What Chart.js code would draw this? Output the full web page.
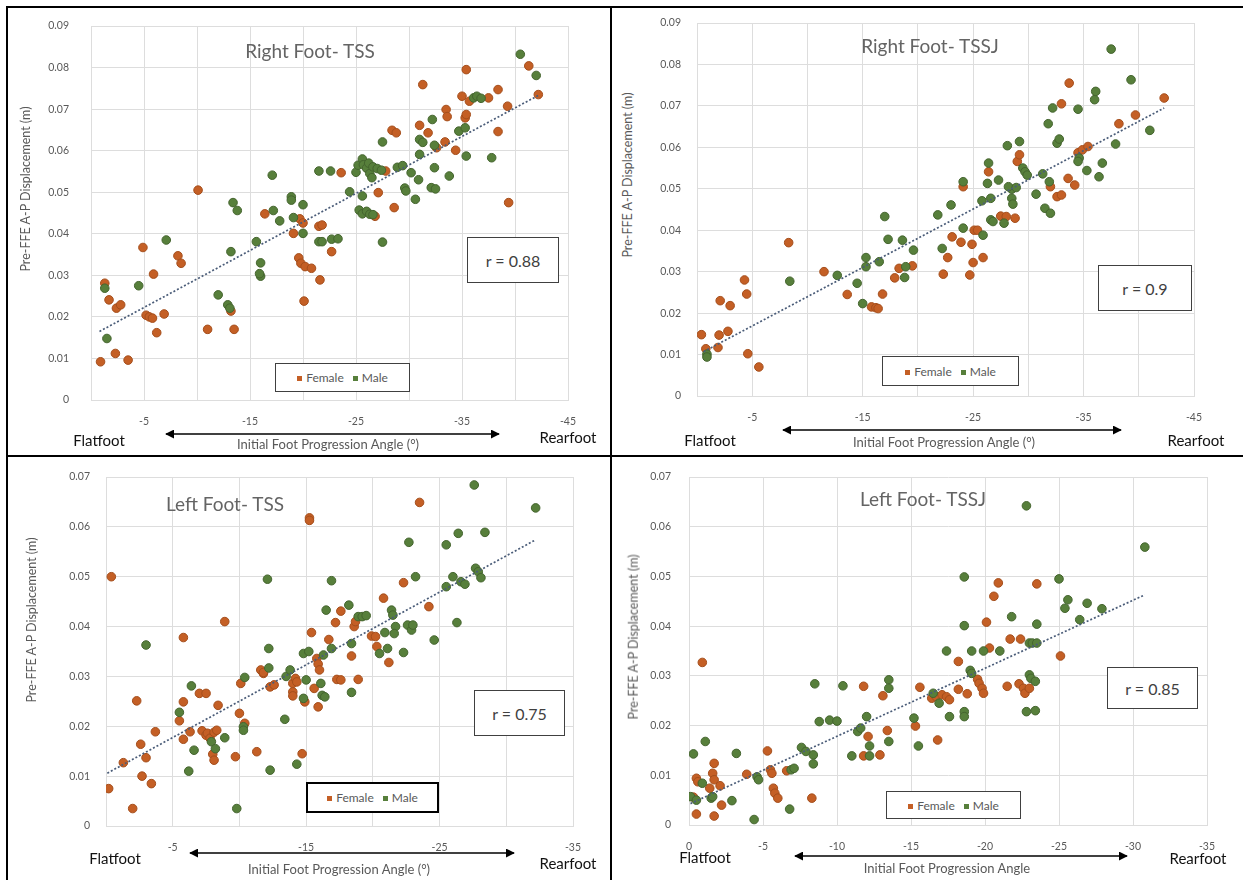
<!DOCTYPE html>
<html>
<head>
<meta charset="utf-8">
<title>Initial foot progression angle vs pre-FFE A-P displacement</title>
<script src="https://cdn.jsdelivr.net/npm/chart.js@4.4.1/dist/chart.umd.min.js"></script>
<style>
  html, body { margin: 0; padding: 0; background: #fff; }
  #page { position: relative; width: 1243px; height: 880px; overflow: hidden; font-family: Lato, "Open Sans", sans-serif; }
  #page canvas { position: absolute; }
  #frame { position: absolute; left: 0; top: 0; z-index: 3; }
  .txt { position: absolute; white-space: nowrap; transform: translate(-50%, -50%); line-height: 1; z-index: 2; }
  .title { font-size: 19px; color: #646464; }
  .ytitle { font-size: 12.5px; color: #595959; transform: translate(-50%, -50%) rotate(-90deg); }
  .xtitle { font-size: 13px; color: #595959; }
  .foot { font-size: 15px; color: #111; }
  .box { position: absolute; box-sizing: border-box; background: #fff; display: flex; align-items: center; justify-content: center; z-index: 2; }
  .rbox { border: 1.5px solid #404040; font-size: 16px; color: #404040; }
  .legend { border: 1.5px solid #404040; font-size: 12px; color: #595959; gap: 9px; }
  .legend.strong { border: 2px solid #000; }
  .legend .dot { display: inline-block; width: 5px; height: 5px; margin-right: 4px; vertical-align: 1px; }
</style>
</head>
<body>
<div id="page"></div>
<script>
// ---- Right foot, TSS ----
const rtssFemale = [
  [-0.9, 0.0092], [-1.3, 0.0281], [-1.7, 0.0241], [-2.3, 0.0112], [-2.4, 0.0221], [-2.8, 0.0229],
  [-3.5, 0.0096], [-4.9, 0.0367], [-5.2, 0.0204], [-5.5, 0.0200], [-5.8, 0.0197], [-5.9, 0.0303],
  [-6.2, 0.0162], [-6.9, 0.0207], [-8.2, 0.0347], [-8.5, 0.0329], [-10.1, 0.0505], [-11.0, 0.0170],
  [-13.2, 0.0214], [-13.5, 0.0170], [-16.4, 0.0448], [-19.7, 0.0436], [-20.0, 0.0426], [-19.1, 0.0401],
  [-19.6, 0.0342], [-19.8, 0.0329], [-20.2, 0.0321], [-20.8, 0.0317], [-20.1, 0.0238], [-21.6, 0.0289],
  [-21.5, 0.0418], [-21.8, 0.0421], [-22.7, 0.0357], [-23.6, 0.0547], [-26.8, 0.0442], [-27.1, 0.0499],
  [-28.4, 0.0649], [-28.8, 0.0643], [-28.6, 0.0463], [-27.8, 0.0551], [-31.0, 0.0661], [-31.3, 0.0759],
  [-31.8, 0.0643], [-32.6, 0.0607], [-33.5, 0.0699], [-33.6, 0.0682], [-33.4, 0.0621], [-34.4, 0.0601],
  [-35.0, 0.0731], [-35.3, 0.0679], [-35.4, 0.0687], [-35.4, 0.0795], [-35.7, 0.0719], [-37.5, 0.0727],
  [-38.4, 0.0747], [-38.4, 0.0646], [-39.3, 0.0707], [-39.4, 0.0475], [-41.3, 0.0804], [-42.2, 0.0735]
];
const rtssMale = [
  [-1.3, 0.0269], [-1.5, 0.0148], [-4.5, 0.0275], [-7.1, 0.0385], [-12.0, 0.0253], [-12.9, 0.0229],
  [-13.1, 0.0221], [-13.4, 0.0475], [-13.8, 0.0456], [-13.2, 0.0357], [-15.6, 0.0381], [-16.0, 0.0330],
  [-16.0, 0.0298], [-15.9, 0.0304], [-17.1, 0.0541], [-17.2, 0.0456], [-17.8, 0.0431], [-18.9, 0.0489],
  [-18.9, 0.0481], [-19.1, 0.0439], [-20.0, 0.0470], [-20.0, 0.0401], [-21.5, 0.0381], [-21.8, 0.0381],
  [-21.5, 0.0551], [-22.6, 0.0551], [-22.7, 0.0387], [-23.3, 0.0388], [-24.4, 0.0501], [-25.3, 0.0457],
  [-25.6, 0.0448], [-26.0, 0.0454], [-26.3, 0.0447], [-26.6, 0.0446], [-25.6, 0.0491], [-27.5, 0.0380],
  [-27.5, 0.0621], [-25.0, 0.0548], [-25.2, 0.0565], [-25.6, 0.0580], [-25.7, 0.0566], [-26.0, 0.0558],
  [-26.2, 0.0570], [-26.3, 0.0545], [-26.6, 0.0561], [-27.0, 0.0557], [-27.4, 0.0553], [-26.5, 0.0535],
  [-28.9, 0.0560], [-29.4, 0.0564], [-29.6, 0.0510], [-29.7, 0.0503], [-30.6, 0.0483], [-30.2, 0.0547],
  [-30.9, 0.0530], [-31.0, 0.0591], [-31.0, 0.0627], [-31.3, 0.0620], [-32.2, 0.0675], [-32.1, 0.0511],
  [-32.5, 0.0508], [-32.4, 0.0613], [-32.4, 0.0559], [-33.8, 0.0539], [-34.7, 0.0647], [-35.3, 0.0655],
  [-35.4, 0.0587], [-36.1, 0.0727], [-36.4, 0.0731], [-36.8, 0.0726], [-37.8, 0.0583], [-40.5, 0.0832],
  [-42.0, 0.0781]
];
const rtssTrend = [[-0.8, 0.0165], [-42.2, 0.0733]];

// ---- Right foot, TSSJ ----
const rtssjFemale = [
  [-0.4, 0.0148], [-0.8, 0.0114], [-1.9, 0.0117], [-2.0, 0.0147], [-2.1, 0.0230], [-2.8, 0.0156],
  [-3.0, 0.0218], [-4.3, 0.0280], [-4.5, 0.0246], [-4.6, 0.0102], [-5.6, 0.0070], [-8.3, 0.0370],
  [-11.5, 0.0300], [-13.6, 0.0245], [-15.8, 0.0215], [-16.2, 0.0213], [-16.4, 0.0211], [-16.8, 0.0246],
  [-17.9, 0.0285], [-18.3, 0.0308], [-19.5, 0.0314], [-22.3, 0.0294], [-22.7, 0.0334], [-23.1, 0.0384],
  [-23.9, 0.0371], [-24.1, 0.0505], [-24.7, 0.0292], [-24.9, 0.0366], [-25.0, 0.0322], [-25.1, 0.0400],
  [-25.4, 0.0400], [-25.9, 0.0334], [-26.4, 0.0541], [-27.5, 0.0434], [-28.0, 0.0433], [-28.8, 0.0429],
  [-29.0, 0.0566], [-29.2, 0.0582], [-32.0, 0.0505], [-33.0, 0.0705], [-32.6, 0.0481], [-33.0, 0.0485],
  [-33.6, 0.0525], [-33.7, 0.0755], [-34.2, 0.0509], [-34.5, 0.0587], [-34.9, 0.0594], [-35.4, 0.0602],
  [-38.2, 0.0657], [-39.7, 0.0678], [-42.3, 0.0719]
];
const rtssjMale = [
  [-0.9, 0.0101], [-0.9, 0.0094], [-8.4, 0.0277], [-12.7, 0.0291], [-14.5, 0.0272], [-15.0, 0.0223],
  [-15.3, 0.0334], [-15.3, 0.0312], [-16.5, 0.0324], [-17.0, 0.0433], [-17.3, 0.0378], [-18.6, 0.0376],
  [-18.8, 0.0286], [-18.9, 0.0312], [-19.6, 0.0352], [-21.8, 0.0437], [-22.2, 0.0356], [-23.0, 0.0461],
  [-24.1, 0.0517], [-24.1, 0.0405], [-25.9, 0.0388], [-25.8, 0.0471], [-26.3, 0.0513], [-26.4, 0.0562],
  [-26.6, 0.0477], [-26.6, 0.0425], [-26.8, 0.0421], [-27.3, 0.0521], [-27.8, 0.0417], [-28.1, 0.0604],
  [-28.5, 0.0499], [-28.5, 0.0477], [-28.6, 0.0463], [-29.2, 0.0614], [-29.5, 0.0550], [-29.7, 0.0541],
  [-29.9, 0.0533], [-30.7, 0.0487], [-31.3, 0.0536], [-31.5, 0.0453], [-32.0, 0.0441], [-31.8, 0.0657],
  [-31.9, 0.0517], [-32.2, 0.0695], [-32.6, 0.0610], [-32.8, 0.0620], [-34.5, 0.0692], [-34.6, 0.0574],
  [-34.5, 0.0566], [-35.3, 0.0544], [-36.0, 0.0715], [-36.1, 0.0735], [-36.4, 0.0529], [-36.7, 0.0562],
  [-37.5, 0.0837], [-37.9, 0.0608], [-39.3, 0.0763], [-41.0, 0.0641], [-28.2, 0.0505], [-28.9, 0.0503]
];
const rtssjTrend = [[-0.6, 0.0107], [-42.3, 0.0695]];

// ---- Left foot, TSS ----
const ltssFemale = [
  [-0.4, 0.0500], [-0.2, 0.0075], [-1.3, 0.0127], [-2.0, 0.0035], [-2.3, 0.0251], [-2.6, 0.0164],
  [-3.0, 0.0137], [-2.7, 0.0100], [-3.4, 0.0085], [-3.7, 0.0189], [-5.5, 0.0211], [-5.8, 0.0378],
  [-5.8, 0.0249], [-5.8, 0.0174], [-6.3, 0.0189], [-7.0, 0.0266], [-7.5, 0.0266], [-7.2, 0.0191],
  [-7.5, 0.0182], [-7.6, 0.0186], [-7.8, 0.0176], [-8.1, 0.0188], [-8.3, 0.0192], [-8.0, 0.0144],
  [-8.1, 0.0132], [-8.4, 0.0242], [-8.9, 0.0410], [-9.7, 0.0139], [-10.0, 0.0226], [-10.1, 0.0286],
  [-10.4, 0.0206], [-11.3, 0.0149], [-11.6, 0.0313], [-11.8, 0.0306], [-11.8, 0.0308], [-12.3, 0.0279],
  [-12.6, 0.0283], [-14.0, 0.0286], [-14.0, 0.0269], [-14.0, 0.0261], [-14.2, 0.0296], [-14.3, 0.0289],
  [-14.7, 0.0145], [-14.9, 0.0249], [-15.25, 0.0618], [-15.25, 0.0613], [-15.4, 0.0388], [-15.6, 0.0276],
  [-15.8, 0.0336], [-15.9, 0.0325], [-16.0, 0.0313], [-15.9, 0.0239], [-16.7, 0.0374], [-17.2, 0.0408],
  [-17.3, 0.0294], [-17.6, 0.0293], [-17.6, 0.0431], [-18.4, 0.0341], [-18.6, 0.0400], [-18.7, 0.0410],
  [-18.9, 0.0294], [-19.9, 0.0381], [-20.2, 0.0380], [-20.3, 0.0360], [-20.8, 0.0457], [-21.2, 0.0328],
  [-22.3, 0.0488], [-23.5, 0.0649], [-24.2, 0.0440]
];
const ltssMale = [
  [-3.0, 0.0363], [-5.5, 0.0228], [-6.2, 0.0110], [-6.4, 0.0281], [-6.6, 0.0152], [-7.9, 0.0169],
  [-8.2, 0.0155], [-8.9, 0.0177], [-9.8, 0.0035], [-10.4, 0.0298], [-10.3, 0.0199], [-10.3, 0.0192],
  [-12.1, 0.0495], [-12.2, 0.0356], [-12.2, 0.0317], [-12.3, 0.0112], [-13.4, 0.0214], [-13.5, 0.0300],
  [-13.8, 0.0313], [-14.3, 0.0124], [-14.8, 0.0346], [-15.2, 0.0350], [-14.8, 0.0256], [-15.0, 0.0293],
  [-16.1, 0.0286], [-16.2, 0.0262], [-16.4, 0.0259], [-16.3, 0.0343], [-16.5, 0.0433], [-16.9, 0.0492],
  [-16.9, 0.0356], [-18.2, 0.0443], [-18.4, 0.0366], [-18.4, 0.0268], [-18.9, 0.0420], [-19.2, 0.0420],
  [-19.5, 0.0422], [-20.5, 0.0346], [-20.9, 0.0388], [-21.1, 0.0356], [-21.4, 0.0433], [-21.5, 0.0423],
  [-21.7, 0.0400], [-21.6, 0.0386], [-22.3, 0.0348], [-22.6, 0.0403], [-22.9, 0.0393], [-23.0, 0.0403],
  [-22.7, 0.0569], [-23.2, 0.0500], [-24.6, 0.0373], [-25.5, 0.0564], [-25.5, 0.0480], [-26.0, 0.0500],
  [-26.3, 0.0408], [-26.4, 0.0587], [-26.6, 0.0490], [-26.9, 0.0485], [-27.6, 0.0684], [-27.7, 0.0517],
  [-27.9, 0.0510], [-28.1, 0.0498], [-28.4, 0.0589], [-32.2, 0.0638]
];
const ltssTrend = [[-0.1, 0.0106], [-32.2, 0.0574]];

// ---- Left foot, TSSJ ----
const ltssjFemale = [
  [-0.3, 0.0056], [-0.5, 0.0094], [-0.6, 0.0087], [-0.5, 0.0022], [-0.9, 0.0327], [-1.4, 0.0074],
  [-1.7, 0.0124], [-1.6, 0.0104], [-1.7, 0.0091], [-1.7, 0.0018], [-2.1, 0.0079], [-2.2, 0.0040],
  [-3.9, 0.0102], [-5.3, 0.0149], [-5.5, 0.0111], [-5.6, 0.0104], [-5.7, 0.0074], [-5.8, 0.0064],
  [-6.0, 0.0054], [-6.6, 0.0109], [-8.3, 0.0054], [-11.8, 0.0279], [-11.8, 0.0139], [-12.1, 0.0178],
  [-12.9, 0.0141], [-13.1, 0.0260], [-13.4, 0.0190], [-15.3, 0.0199], [-15.6, 0.0277], [-16.4, 0.0255],
  [-16.7, 0.0258], [-17.1, 0.0262], [-17.4, 0.0258], [-17.6, 0.0252], [-16.8, 0.0171], [-18.2, 0.0329],
  [-18.2, 0.0273], [-18.8, 0.0264], [-19.5, 0.0293], [-19.6, 0.0285], [-19.8, 0.0275], [-19.9, 0.0265],
  [-20.1, 0.0408], [-20.3, 0.0356], [-20.6, 0.0460], [-20.9, 0.0487], [-21.5, 0.0279], [-21.7, 0.0374],
  [-22.3, 0.0284], [-22.4, 0.0374], [-22.6, 0.0275], [-22.7, 0.0265], [-23.0, 0.0275], [-23.5, 0.0485],
  [-25.1, 0.0340]
];
const ltssjMale = [
  [-0.3, 0.0143], [-0.1, 0.0057], [-0.5, 0.0050], [-0.9, 0.0084], [-1.1, 0.0168], [-1.5, 0.0054],
  [-1.6, 0.0057], [-2.9, 0.0049], [-3.2, 0.0144], [-4.4, 0.0011], [-4.6, 0.0097], [-4.7, 0.0091],
  [-6.8, 0.0032], [-6.9, 0.0111], [-7.1, 0.0114], [-7.6, 0.0156], [-7.9, 0.0148], [-8.4, 0.0123],
  [-8.4, 0.0141], [-8.5, 0.0284], [-8.8, 0.0208], [-9.5, 0.0211], [-10.0, 0.0209], [-10.4, 0.0280],
  [-11.0, 0.0139], [-11.4, 0.0188], [-11.6, 0.0195], [-12.0, 0.0218], [-12.2, 0.0139], [-12.2, 0.0159],
  [-13.5, 0.0292], [-13.5, 0.0275], [-13.5, 0.0168], [-15.2, 0.0215], [-15.5, 0.0159], [-16.5, 0.0265],
  [-16.9, 0.0245], [-17.4, 0.0350], [-17.6, 0.0218], [-18.6, 0.0499], [-18.6, 0.0401], [-18.6, 0.0228],
  [-18.6, 0.0218], [-19.0, 0.0311], [-19.1, 0.0305], [-19.1, 0.0350], [-19.9, 0.0350], [-21.0, 0.0350],
  [-21.8, 0.0419], [-22.8, 0.0228], [-23.4, 0.0230], [-22.8, 0.0642], [-23.0, 0.0302], [-23.1, 0.0295],
  [-23.0, 0.0366], [-23.2, 0.0366], [-23.5, 0.0366], [-23.4, 0.0289], [-23.5, 0.0404], [-25.0, 0.0495],
  [-25.4, 0.0436], [-25.6, 0.0453], [-26.4, 0.0413], [-26.9, 0.0446], [-27.9, 0.0435], [-30.8, 0.0559]
];
const ltssjTrend = [[-0.1, 0.0043], [-30.8, 0.0463]];

// labels and axis ticks
const seriesNames = ['Female', 'Male'];
const panelTitles = ['Right Foot- TSS', 'Right Foot- TSSJ', 'Left Foot- TSS', 'Left Foot- TSSJ'];
const rValues = ['0.88', '0.9', '0.75', '0.85'];
const yAxisTitle = 'Pre-FFE A-P Displacement (m)';
const xAxisTitles = ['Initial Foot Progression Angle (°)', 'Initial Foot Progression Angle (°)',
                     'Initial Foot Progression Angle (°)', 'Initial Foot Progression Angle'];
const rightXLabels = [-5, -15, -25, -35, -45];
const leftTssXLabels = [-5, -15, -25, -35];
const leftTssjXLabels = [0, -5, -10, -15, -20, -25, -30, -35];
const endLabels = ['Flatfoot', 'Rearfoot'];

const FEMALE = '#C45F25', FEMALE_EDGE = '#A44E1C';
const MALE = '#577F3B', MALE_EDGE = '#44642E';
const TREND = '#4A5C78';
const GRID = '#DDDDDD';
const TICK = '#595959';

Chart.defaults.font.family = 'Lato, "Open Sans", sans-serif';

const panels = [
  { female: rtssFemale, male: rtssMale, trend: rtssTrend, xMin: -45, yMax: 0.09, xLabels: rightXLabels,
    area: { l: 91, t: 26, r: 568, b: 400 }, yPad: 22, title: [310, 50], yTitle: [26, 189],
    rBox: [467, 237, 559, 283], legend: [275, 363, 410, 392], flat: [99, 440], rear: [568, 437],
    arrow: [166, 499, 434], xTitle: [328, 444] },
  { female: rtssjFemale, male: rtssjMale, trend: rtssjTrend, xMin: -45, yMax: 0.09, xLabels: rightXLabels,
    area: { l: 697, t: 23, r: 1194, b: 396 }, yPad: 16, title: [930, 45], yTitle: [628, 175],
    rBox: [1098, 265, 1192, 311], legend: [882, 356, 1019, 386], flat: [710, 440], rear: [1196, 440],
    arrow: [783, 1121, 430], xTitle: [944, 442] },
  { female: ltssFemale, male: ltssMale, trend: ltssTrend, xMin: -35, yMax: 0.07, xLabels: leftTssXLabels,
    area: { l: 106, t: 477, r: 573, b: 826 }, yPad: 16, title: [225, 503], yTitle: [32, 620],
    rBox: [474, 690, 565, 736], legend: [306, 782, 439, 813], legendStrong: true, flat: [115, 858], rear: [568, 863],
    arrow: [190, 514, 853], xTitle: [339, 869] },
  { female: ltssjFemale, male: ltssjMale, trend: ltssjTrend, xMin: -35, yMax: 0.07, xLabels: leftTssjXLabels,
    area: { l: 689, t: 477, r: 1207, b: 825 }, yPad: 18, title: [923, 498], yTitle: [634, 637],
    rBox: [1107, 667, 1198, 709], legend: [886, 791, 1021, 819], flat: [705, 857], rear: [1198, 858],
    arrow: [795, 1127, 856], xTitle: [947, 868] }
];

const page = document.getElementById('page');
const pts = arr => arr.map(([x, y]) => ({ x, y }));

function addText(cls, text, x, y) {
  const d = document.createElement('div');
  d.className = 'txt ' + cls;
  d.textContent = text;
  d.style.left = x + 'px';
  d.style.top = y + 'px';
  page.appendChild(d);
}

function addBox(cls, rect) {
  const d = document.createElement('div');
  d.className = 'box ' + cls;
  d.style.left = rect[0] + 'px';
  d.style.top = rect[1] + 'px';
  d.style.width = (rect[2] - rect[0]) + 'px';
  d.style.height = (rect[3] - rect[1]) + 'px';
  page.appendChild(d);
  return d;
}

function makePanel(p, i) {
  const padL = 60, padT = 10, padR = 14, axisH = 40;
  const cv = document.createElement('canvas');
  cv.width = p.area.r - p.area.l + padL + padR;
  cv.height = p.area.b - p.area.t + padT + axisH;
  cv.style.left = (p.area.l - padL) + 'px';
  cv.style.top = (p.area.t - padT) + 'px';
  page.appendChild(cv);

  const chart = new Chart(cv, {
    type: 'scatter',
    data: {
      datasets: [
        { label: seriesNames[0], data: pts(p.female), backgroundColor: FEMALE, borderColor: FEMALE_EDGE,
          borderWidth: 1, pointRadius: 4.3, order: 2 },
        { label: seriesNames[1], data: pts(p.male), backgroundColor: MALE, borderColor: MALE_EDGE,
          borderWidth: 1, pointRadius: 4.3, order: 1 },
        { label: 'Linear', data: pts(p.trend), showLine: true, pointRadius: 0, borderColor: TREND,
          borderWidth: 1.7, borderDash: [2, 2], order: 0 }
      ]
    },
    options: {
      responsive: false,
      animation: false,
      devicePixelRatio: 1,
      layout: { autoPadding: false, padding: { left: 0, top: padT, right: padR, bottom: 0 } },
      plugins: { legend: { display: false }, tooltip: { enabled: false } },
      scales: {
        x: {
          type: 'linear', min: p.xMin, max: 0, reverse: true,
          // fixed axis band; the label padding must not shrink the plot area
          afterFit: s => { s.height = axisH; s.paddingLeft = 0; s.paddingRight = 0; },
          grid: { color: GRID, drawTicks: false }, border: { color: GRID },
          ticks: { stepSize: 5, padding: 15, color: TICK, font: { size: 10.5 }, autoSkip: false, maxRotation: 0,
                   callback: v => p.xLabels.includes(v) ? String(v) : '' }
        },
        y: {
          type: 'linear', min: 0, max: p.yMax,
          afterFit: s => { s.width = padL; s.paddingTop = 0; s.paddingBottom = 0; },
          grid: { color: GRID, drawTicks: false }, border: { color: GRID },
          ticks: { stepSize: 0.01, padding: p.yPad, color: TICK, font: { size: 10.5 },
                   callback: v => v === 0 ? '0' : Number(v).toFixed(2) }
        }
      }
    }
  });

  addText('title', panelTitles[i], p.title[0], p.title[1]);
  addText('ytitle', yAxisTitle, p.yTitle[0], p.yTitle[1]);
  addText('xtitle', xAxisTitles[i], p.xTitle[0], p.xTitle[1]);
  addText('foot', endLabels[0], p.flat[0], p.flat[1]);
  addText('foot', endLabels[1], p.rear[0], p.rear[1]);

  addBox('rbox', p.rBox).textContent = 'r = ' + rValues[i];

  // legend built from the chart's own datasets
  const lg = addBox('legend' + (p.legendStrong ? ' strong' : ''), p.legend);
  chart.data.datasets.slice(0, 2).forEach(ds => {
    const item = document.createElement('span');
    const dot = document.createElement('span');
    dot.className = 'dot';
    dot.style.background = ds.backgroundColor;
    item.appendChild(dot);
    item.appendChild(document.createTextNode(ds.label));
    lg.appendChild(item);
  });
}

panels.forEach(makePanel);

// panel frame and the Flatfoot <-> Rearfoot arrows
const NS = 'http://www.w3.org/2000/svg';
const svg = document.createElementNS(NS, 'svg');
svg.id = 'frame';
svg.setAttribute('width', 1243);
svg.setAttribute('height', 880);
svg.innerHTML =
  '<defs><marker id="ah" viewBox="0 0 10 10" refX="9" refY="5" markerWidth="9" markerHeight="9" orient="auto-start-reverse" markerUnits="userSpaceOnUse">' +
  '<path d="M0,0 L10,5 L0,10 z" fill="#000"/></marker></defs>';
function line(x1, y1, x2, y2, w, arrows) {
  const l = document.createElementNS(NS, 'line');
  l.setAttribute('x1', x1); l.setAttribute('y1', y1);
  l.setAttribute('x2', x2); l.setAttribute('y2', y2);
  l.setAttribute('stroke', '#000');
  l.setAttribute('stroke-width', w);
  if (arrows) {
    l.setAttribute('marker-start', 'url(#ah)');
    l.setAttribute('marker-end', 'url(#ah)');
  }
  svg.appendChild(l);
}
line(6, 7, 1243, 7, 2);
line(7, 6, 7, 880, 2);
line(611, 6, 611, 880, 2);
line(6, 456, 1243, 456, 2);
panels.forEach(p => line(p.arrow[0], p.arrow[2], p.arrow[1], p.arrow[2], 1.5, true));
page.appendChild(svg);
</script>
</body>
</html>
